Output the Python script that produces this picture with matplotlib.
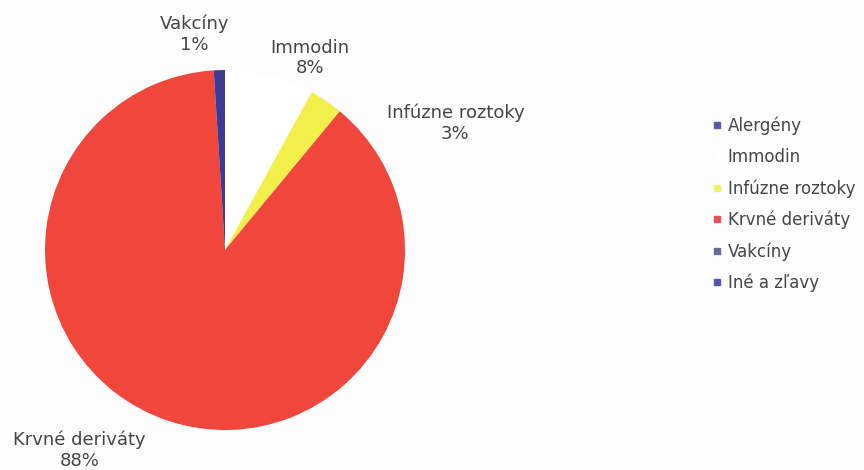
import matplotlib
matplotlib.use("Agg")
import matplotlib.pyplot as plt
from matplotlib.lines import Line2D

# Share of sales by product group (%)
categories = ["Alergény", "Immodin", "Infúzne roztoky", "Krvné deriváty", "Vakcíny", "Iné a zľavy"]
shares = [0, 8, 3, 88, 1, 0]
colors = ["#5b5ba8", "#ffffff", "#f2ef4a", "#f0463c", "#3b3b95", "#4e4eb4"]
legend_colors = ["#5b5ba8", "#ffffff", "#eef06a", "#e85060", "#6a6a96", "#5252b0"]

# label anchor points (axes data units, pie radius = 1)
label_pos = {
    "Vakcíny": (-0.17, 1.20),
    "Immodin": (0.47, 1.067),
    "Infúzne roztoky": (1.28, 0.703),
    "Krvné deriváty": (-0.81, -1.114),
}

plt.rcParams["font.family"] = ["DejaVu Sans"]
text_color = "#454545"

W, H = 864, 470
fig = plt.figure(figsize=(W / 100, H / 100), dpi=100, facecolor="#fdfdfd")

cx, cy, r = 225, 250, 180
half = 200
ax = fig.add_axes([(cx - half) / W, (H - cy - half) / H, 2 * half / W, 2 * half / H])
ax.set_facecolor("none")

wedges, _ = ax.pie(shares, colors=colors, startangle=90, counterclock=False,
                   radius=1.0, wedgeprops=dict(linewidth=0))
lim = half / r
ax.set_xlim(-lim, lim)
ax.set_ylim(-lim, lim)
ax.set_aspect("equal")
ax.axis("off")

for name, val in zip(categories, shares):
    if name in label_pos:
        x, y = label_pos[name]
        ax.text(x, y, f"{name}\n{val}%", ha="center", va="center", fontsize=13,
                color=text_color, linespacing=1.2, clip_on=False)

handles = [Line2D([0], [0], marker="s", linestyle="none", markersize=4.5,
                  markerfacecolor=c, markeredgecolor=c) for c in legend_colors]
leg = fig.legend(handles, categories, loc="upper left",
                 bbox_to_anchor=(705 / W, 1 - 110 / H), frameon=False,
                 fontsize=12, labelspacing=0.78, handlelength=0.6,
                 handletextpad=0.35, borderaxespad=0)
for t in leg.get_texts():
    t.set_color(text_color)

fig.savefig("out.png", dpi=100, facecolor=fig.get_facecolor())
